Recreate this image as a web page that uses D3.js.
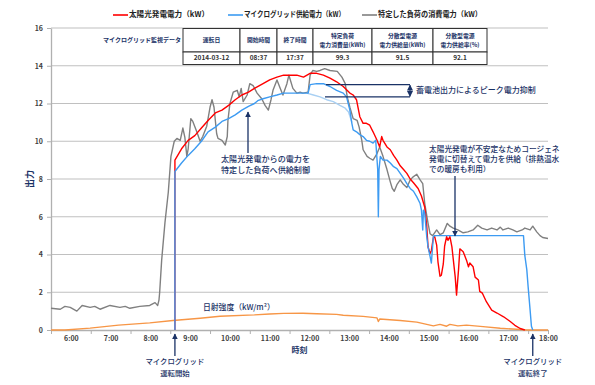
<!DOCTYPE html>
<html>
<head>
<meta charset="utf-8">
<script src="https://cdn.jsdelivr.net/npm/d3@7"></script>
<style>
  body { margin: 0; background: #fff; }
  svg { display: block; }
  text { font-family: "Noto Sans CJK JP", "Noto Sans", sans-serif; }
</style>
</head>
<body>
<div id="chart"></div>
<script>
// 太陽光発電電力 (kW)
const solarData = [
  ["08:37", 0], ["08:37", 9.0], ["08:47", 9.6], ["08:57", 10.05], ["09:07", 10.3], ["09:17", 10.7],
  ["09:27", 11.1], ["09:38", 11.5], ["09:48", 11.65], ["09:58", 11.9], ["10:08", 12.2], ["10:18", 12.45],
  ["10:28", 12.6], ["10:37", 12.8], ["10:50", 13.05], ["11:00", 13.25], ["11:11", 13.4], ["11:21", 13.5],
  ["11:31", 13.5], ["11:41", 13.5], ["11:51", 13.4], ["12:01", 13.6], ["12:11", 13.6], ["12:21", 13.5],
  ["12:31", 13.35], ["12:41", 13.15], ["12:51", 12.9], ["13:01", 12.55], ["13:06", 12.45], ["13:11", 12.2],
  ["13:16", 11.3], ["13:21", 10.95], ["13:26", 10.95], ["13:31", 10.85], ["13:36", 10.5], ["13:42", 10.05],
  ["13:46", 9.7], ["13:49", 10.25], ["13:51", 10.05], ["13:57", 9.7], ["14:02", 9.55], ["14:07", 9.25],
  ["14:12", 9.0], ["14:17", 8.7], ["14:22", 8.5], ["14:27", 8.3], ["14:32", 8.0], ["14:37", 7.8],
  ["14:44", 7.5], ["14:49", 7.1], ["14:54", 6.5], ["14:57", 5.5], ["14:59", 4.4], ["15:02", 4.05],
  ["15:04", 4.2], ["15:07", 4.9], ["15:09", 4.95], ["15:12", 4.5], ["15:14", 3.6], ["15:17", 2.85],
  ["15:19", 2.9], ["15:22", 3.5], ["15:24", 4.45], ["15:27", 4.95], ["15:29", 4.75], ["15:32", 4.95],
  ["15:35", 4.4], ["15:40", 2.8], ["15:42", 1.85], ["15:45", 3.2], ["15:47", 4.3], ["15:52", 4.15],
  ["15:57", 3.7], ["16:00", 3.35], ["16:02", 3.55], ["16:07", 3.35], ["16:10", 2.8], ["16:15", 2.65],
  ["16:17", 2.05], ["16:21", 1.95], ["16:27", 1.5], ["16:35", 1.05], ["16:43", 0.9], ["16:53", 0.7],
  ["17:03", 0.45], ["17:10", 0.25], ["17:18", 0.08], ["17:25", 0]
];

// マイクログリッド供給電力 (kW)
const supplyData = [
  ["08:37", 0], ["08:37", 8.4], ["08:47", 8.85], ["08:57", 9.25], ["09:07", 9.6], ["09:17", 10.0],
  ["09:27", 10.5], ["09:38", 10.75], ["09:48", 11.05], ["09:58", 11.2], ["10:08", 11.4], ["10:18", 11.65],
  ["10:28", 11.85], ["10:37", 12.0], ["10:42", 12.15], ["10:50", 12.25], ["11:00", 12.35], ["11:11", 12.45],
  ["11:21", 12.55], ["11:31", 12.55], ["11:41", 12.55], ["11:51", 12.55], ["11:58", 12.55], ["12:01", 13.0],
  ["12:11", 13.05], ["12:21", 13.05], ["12:31", 12.9], ["12:41", 12.7], ["12:51", 12.55], ["12:56", 12.35],
  ["13:01", 11.65], ["13:04", 10.95], ["13:06", 10.6], ["13:11", 10.5], ["13:16", 10.35], ["13:21", 10.25],
  ["13:26", 10.05], ["13:31", 10.0], ["13:36", 9.9], ["13:40", 10.05], ["13:43", 8.5], ["13:44", 6.0],
  ["13:45", 8.5], ["13:47", 9.2], ["13:51", 9.0], ["13:57", 9.0], ["14:02", 8.85], ["14:07", 8.65],
  ["14:12", 8.55], ["14:17", 8.3], ["14:22", 8.05], ["14:27", 7.75], ["14:32", 7.5], ["14:37", 7.35],
  ["14:42", 7.05], ["14:47", 6.7], ["14:49", 6.35], ["14:51", 5.3], ["14:52", 6.35], ["14:54", 6.2],
  ["14:57", 4.95], ["14:59", 4.4], ["15:02", 3.9], ["15:04", 3.55], ["15:07", 4.95], ["15:09", 5.0],
  ["17:23", 5.0], ["17:25", 3.95], ["17:28", 3.2], ["17:30", 2.3], ["17:33", 1.05], ["17:35", 0.2], ["17:37", 0]
];

// 太陽光分の供給電力 (淡い青)
const supplyPvData = [
  ["11:56", 12.55], ["12:06", 12.45], ["12:16", 12.35], ["12:26", 12.2], ["12:36", 12.1],
  ["12:46", 11.9], ["12:54", 11.75], ["12:59", 11.55], ["13:04", 11.0]
];

// 特定した負荷の消費電力 (kW)
const loadData = [
  ["05:30", 1.15], ["05:44", 1.1], ["05:51", 1.25], ["05:59", 1.2], ["06:09", 1.0], ["06:17", 1.3],
  ["06:29", 1.2], ["06:36", 1.25], ["06:44", 1.1], ["06:59", 1.3], ["07:14", 1.2], ["07:22", 1.25],
  ["07:29", 1.15], ["07:44", 1.25], ["07:59", 1.3], ["08:07", 1.45], ["08:11", 1.3], ["08:13", 1.6],
  ["08:14", 2.0], ["08:17", 3.7], ["08:22", 5.7], ["08:27", 7.3], ["08:31", 9.2], ["08:36", 10.0],
  ["08:40", 10.15], ["08:45", 10.05], ["08:49", 10.7], ["08:52", 10.2], ["08:55", 9.2], ["08:57", 9.6],
  ["09:01", 11.2], ["09:04", 11.05], ["09:10", 10.5], ["09:15", 10.0], ["09:19", 10.25], ["09:25", 10.8],
  ["09:30", 11.8], ["09:33", 12.2], ["09:36", 11.8], ["09:40", 10.4], ["09:42", 10.15], ["09:48", 10.05],
  ["09:53", 9.8], ["09:56", 10.25], ["09:57", 11.1], ["10:00", 12.0], ["10:05", 12.6], ["10:11", 12.7],
  ["10:14", 12.35], ["10:17", 12.8], ["10:20", 12.1], ["10:26", 12.45], ["10:30", 13.05], ["10:35", 12.95],
  ["10:41", 12.55], ["10:48", 12.25], ["10:53", 11.9], ["10:58", 11.65], ["11:02", 12.2], ["11:05", 12.7],
  ["11:11", 13.25], ["11:16", 12.8], ["11:20", 12.45], ["11:26", 13.05], ["11:29", 13.5], ["11:35", 12.8],
  ["11:41", 12.55], ["11:46", 12.6], ["11:50", 12.55], ["11:58", 12.6], ["12:01", 13.5], ["12:05", 13.75],
  ["12:11", 13.7], ["12:16", 13.75], ["12:23", 13.85], ["12:31", 13.75], ["12:42", 13.7], ["12:49", 13.4],
  ["12:54", 13.05], ["12:57", 12.35], ["13:01", 11.8], ["13:06", 11.2], ["13:12", 11.1], ["13:15", 10.75],
  ["13:19", 10.05], ["13:21", 9.55], ["13:27", 9.2], ["13:31", 9.1], ["13:36", 9.0], ["13:42", 9.35],
  ["13:46", 9.7], ["13:51", 9.2], ["13:57", 8.5], ["14:02", 7.85], ["14:05", 7.5], ["14:08", 7.35],
  ["14:12", 7.7], ["14:17", 7.95], ["14:21", 7.75], ["14:27", 7.55], ["14:32", 7.95], ["14:36", 8.1],
  ["14:42", 8.25], ["14:47", 7.95], ["14:51", 7.75], ["14:54", 6.7], ["14:59", 5.65], ["15:02", 5.1],
  ["15:06", 5.0], ["15:12", 5.3], ["15:17", 5.05], ["15:22", 5.15], ["15:28", 5.65], ["15:32", 5.5],
  ["15:37", 5.4], ["15:44", 5.3], ["15:52", 5.15], ["15:59", 5.2], ["16:07", 5.3], ["16:14", 5.55],
  ["16:20", 5.4], ["16:28", 5.3], ["16:35", 5.4], ["16:43", 5.3], ["16:48", 5.45], ["16:52", 5.3],
  ["17:00", 5.4], ["17:07", 5.3], ["17:13", 5.2], ["17:21", 5.3], ["17:25", 5.4], ["17:33", 5.3],
  ["17:37", 5.5], ["17:43", 5.2], ["17:48", 5.0], ["17:52", 4.9], ["18:00", 4.85]
];

// 日射強度 (kW/m2)
const irradianceData = [
  ["05:30", 0], ["05:51", 0], ["06:29", 0.1], ["07:12", 0.26], ["07:59", 0.38], ["08:34", 0.5],
  ["09:15", 0.62], ["09:45", 0.73], ["10:37", 0.8], ["11:00", 0.85], ["11:21", 0.88], ["11:50", 0.89],
  ["12:11", 0.86], ["12:41", 0.83], ["12:51", 0.78], ["13:21", 0.72], ["13:42", 0.64], ["13:44", 0.45],
  ["13:46", 0.58], ["14:17", 0.5], ["14:42", 0.42], ["14:57", 0.3], ["15:07", 0.22], ["15:17", 0.3],
  ["15:27", 0.2], ["15:32", 0.3], ["15:44", 0.22], ["15:57", 0.26], ["16:22", 0.18], ["16:48", 0.09],
  ["17:13", 0.04], ["17:28", 0], ["18:00", 0]
];

const hourTicks = ["06:00", "07:00", "08:00", "09:00", "10:00", "11:00", "12:00",
  "13:00", "14:00", "15:00", "16:00", "17:00", "18:00"];
const halfHourTicks = ["05:30", "06:30", "07:30", "08:30", "09:30", "10:30", "11:30",
  "12:30", "13:30", "14:30", "15:30", "16:30", "17:30", "18:00"];
const yTicks = [0, 2, 4, 6, 8, 10, 12, 14, 16];

const legendNames = ["太陽光発電電力（kW）", "マイクログリッド供給電力（kW）", "特定した負荷の消費電力（kW）"];
const tableTitle = "マイクログリッド監視データ";
const tableHeaders = [["運転日"], ["開始時間"], ["終了時間"], ["特定負荷", "電力消費量(kWh)"],
  ["分散型電源", "電力供給量(kWh)"], ["分散型電源", "電力供給率(%)"]];
const tableValues = ["2014-03-12", "08:37", "17:37", "99.3", "91.5", "92.1"];
const startTime = "08:37";
const endTime = "17:37";

const width = 595;
const height = 385;
const navy = "#1a3266";
const colors = { solar: "#ff0000", supply: "#3d9bf2", supplyPv: "#a9d0f3", load: "#808080", sun: "#f79646" };

const parse = d3.timeParse("%H:%M");

const svg = d3.select("#chart").append("svg").attr("width", width).attr("height", height);
svg.append("rect").attr("width", width).attr("height", height).attr("fill", "#fff");

const x = d3.scaleTime().domain([parse("05:30"), parse("18:00")]).range([51, 548]);
const y = d3.scaleLinear().domain([0, 16]).range([330, 28]);

const defs = svg.append("defs");
defs.append("marker")
  .attr("id", "head")
  .attr("viewBox", "0 0 10 10")
  .attr("refX", 9).attr("refY", 5)
  .attr("markerWidth", 6).attr("markerHeight", 6)
  .attr("markerUnits", "userSpaceOnUse")
  .attr("orient", "auto-start-reverse")
  .append("path").attr("d", "M0,0 L10,5 L0,10 Z").attr("fill", navy);

/* Gridlines
=========================================================================*/
svg.append("g")
  .selectAll("line")
  .data(yTicks.filter((d) => d > 0))
  .join("line")
  .attr("x1", x.range()[0]).attr("x2", x.range()[1])
  .attr("y1", (d) => y(d)).attr("y2", (d) => y(d))
  .attr("stroke", "#c0c0c0").attr("stroke-width", 1.2);

/* Axes
=========================================================================*/
const yAxis = svg.append("g")
  .attr("transform", `translate(${x.range()[0]},0)`)
  .call(d3.axisLeft(y).tickValues(yTicks).tickSize(4).tickSizeOuter(0).tickPadding(4));

const xTickAxis = svg.append("g")
  .attr("transform", `translate(0,${y(0)})`)
  .call(d3.axisBottom(x).tickValues(halfHourTicks.map(parse)).tickSize(4).tickSizeOuter(0).tickFormat(""));

const xLabelAxis = svg.append("g")
  .attr("transform", `translate(0,${y(0)})`)
  .call(d3.axisBottom(x).tickValues(hourTicks.map(parse)).tickSize(0).tickPadding(6)
    .tickFormat(d3.timeFormat("%-H:%M")));
xLabelAxis.select(".domain").remove();

[yAxis, xTickAxis].forEach((g) => {
  g.select(".domain").attr("stroke", "#b0b0b0").attr("stroke-width", 1.3);
  g.selectAll(".tick line").attr("stroke", "#b0b0b0");
});
[yAxis, xLabelAxis].forEach((g) => {
  g.selectAll(".tick text")
    .attr("font-size", 7).attr("font-weight", 700).attr("fill", "#404040")
    .attr("font-family", "'Liberation Sans', Arial, sans-serif");
});

svg.append("text")
  .attr("transform", `translate(31,${y(8)}) rotate(-90)`)
  .attr("text-anchor", "middle").attr("dominant-baseline", "middle")
  .attr("font-size", 9).attr("font-weight", 700).attr("fill", navy)
  .text("出力");

svg.append("text")
  .attr("x", (x.range()[0] + x.range()[1]) / 2).attr("y", 351)
  .attr("text-anchor", "middle").attr("dominant-baseline", "middle")
  .attr("font-size", 8).attr("font-weight", 700).attr("fill", navy)
  .text("時刻");

/* Series
=========================================================================*/
const line = d3.line().x((d) => x(parse(d[0]))).y((d) => y(d[1]));

const series = [
  { data: irradianceData, color: colors.sun },
  { data: loadData, color: colors.load },
  { data: solarData, color: colors.solar },
  { data: supplyPvData, color: colors.supplyPv },
  { data: supplyData, color: colors.supply }
];

svg.append("g")
  .selectAll("path")
  .data(series)
  .join("path")
  .attr("d", (d) => line(d.data))
  .attr("fill", "none")
  .attr("stroke", (d) => d.color)
  .attr("stroke-width", 1.4)
  .attr("stroke-linejoin", "round");

/* Legend
=========================================================================*/
const legendColors = [colors.solar, colors.supply, colors.load];
const legendX = [113, 228, 362];
const legendTextWidth = [80, 101, 104];
const legend = svg.append("g")
  .selectAll("g")
  .data(legendNames)
  .join("g")
  .attr("transform", (d, i) => `translate(${legendX[i]},15)`);
legend.append("line")
  .attr("x1", 0).attr("x2", 15)
  .attr("stroke", (d, i) => legendColors[i]).attr("stroke-width", 1.6);
legend.append("text")
  .attr("x", 16).attr("dominant-baseline", "middle")
  .attr("font-size", 7.6).attr("font-weight", 700).attr("fill", "#222")
  .attr("textLength", (d, i) => legendTextWidth[i]).attr("lengthAdjust", "spacingAndGlyphs")
  .text((d) => d);

/* Table
=========================================================================*/
const colEdges = [183, 240, 277, 313, 372, 433, 487];
const rowEdges = [28.5, 52, 64.5];
const table = svg.append("g");

table.append("text")
  .attr("x", 142).attr("y", 40)
  .attr("text-anchor", "middle").attr("dominant-baseline", "middle")
  .attr("font-size", 6).attr("font-weight", 700).attr("fill", navy)
  .text(tableTitle);

tableHeaders.forEach((lines, i) => {
  const cx = (colEdges[i] + colEdges[i + 1]) / 2;
  table.append("rect")
    .attr("x", colEdges[i]).attr("y", rowEdges[0])
    .attr("width", colEdges[i + 1] - colEdges[i]).attr("height", rowEdges[1] - rowEdges[0])
    .attr("fill", "#fff").attr("stroke", "#333").attr("stroke-width", 1);
  table.append("rect")
    .attr("x", colEdges[i]).attr("y", rowEdges[1])
    .attr("width", colEdges[i + 1] - colEdges[i]).attr("height", rowEdges[2] - rowEdges[1])
    .attr("fill", "#fff").attr("stroke", "#333").attr("stroke-width", 1);
  lines.forEach((t, j) => {
    table.append("text")
      .attr("x", cx)
      .attr("y", lines.length === 1 ? 40.5 : 36.5 + j * 8.5)
      .attr("text-anchor", "middle").attr("dominant-baseline", "middle")
      .attr("font-size", 5.8).attr("font-weight", 700).attr("fill", navy)
      .text(t);
  });
  table.append("text")
    .attr("x", cx).attr("y", 58.5)
    .attr("text-anchor", "middle").attr("dominant-baseline", "middle")
    .attr("font-size", 6.5).attr("font-weight", 700).attr("fill", "#333")
    .text(tableValues[i]);
});

/* Annotations
=========================================================================*/
const note = svg.append("g").attr("fill", navy).attr("font-weight", 500);

function arrow(x1, y1, x2, y2) {
  svg.append("line")
    .attr("x1", x1).attr("y1", y1).attr("x2", x2).attr("y2", y2)
    .attr("stroke", navy).attr("stroke-width", 1.3)
    .attr("marker-end", "url(#head)");
}

function label(lines, x0, y0, anchor, lh, size) {
  lines.forEach((t, i) => {
    note.append("text")
      .attr("x", x0).attr("y", y0 + i * lh)
      .attr("text-anchor", anchor).attr("dominant-baseline", "middle")
      .attr("font-size", size)
      .text(t);
  });
}

// 運転開始 / 運転終了
const xs = x(parse(startTime));
const xe = x(parse(endTime));
arrow(xs, 356, xs, 334);
arrow(xe, 356, xe, 334);
label(["マイクログリッド", "運転開始"], xs, 362, "middle", 11.5, 7.4);
label(["マイクログリッド", "運転終了"], xe, 362, "middle", 11.5, 7.4);

// 太陽光発電からの電力を特定した負荷へ供給制御
arrow(248, 153, 248, 112);
label(["太陽光発電からの電力を", "特定した負荷へ供給制御"], 221, 160, "start", 10.5, 8.1);

// 蓄電池出力によるピーク電力抑制
svg.append("line").attr("x1", 326).attr("x2", 410).attr("y1", y(13.0)).attr("y2", y(13.0))
  .attr("stroke", navy).attr("stroke-width", 1.2);
svg.append("line").attr("x1", 325).attr("x2", 410).attr("y1", y(12.35)).attr("y2", y(12.35))
  .attr("stroke", navy).attr("stroke-width", 1.2);
svg.append("line")
  .attr("x1", 410).attr("x2", 410).attr("y1", y(12.35) - 0.5).attr("y2", y(13.0) + 0.5)
  .attr("stroke", navy).attr("stroke-width", 1)
  .attr("marker-start", "url(#head)").attr("marker-end", "url(#head)");
label(["蓄電池出力によるピーク電力抑制"], 416, 90.5, "start", 0, 8);

// コージェネ切替
arrow(455, 176, 455, 236);
label(["太陽光発電が不安定なためコージェネ", "発電に切替えて電力を供給（排熱温水", "での暖房も利用）"],
  429, 149.5, "start", 10.3, 7.7);

// 日射強度
label(["日射強度（kW/m²）"], 203, 307.5, "start", 0, 7.8);
</script>
</body>
</html>
